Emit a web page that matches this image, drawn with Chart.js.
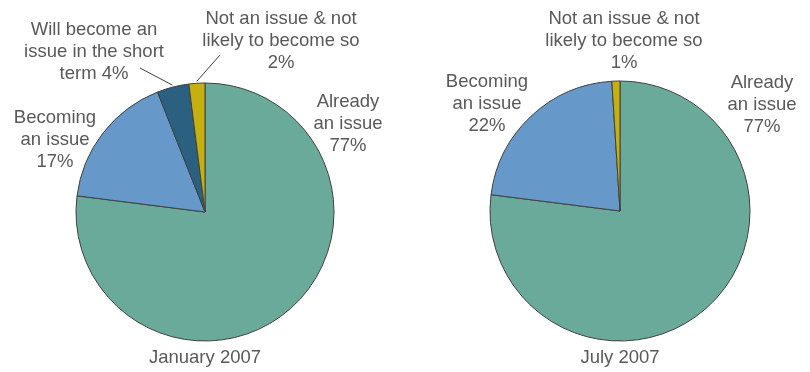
<!DOCTYPE html>
<html>
<head>
<meta charset="utf-8">
<script src="https://cdn.jsdelivr.net/npm/chart.js@4.4.0/dist/chart.umd.min.js"></script>
<style>
html, body { margin: 0; padding: 0; background: #fff; }
#wrap { position: relative; width: 810px; height: 372px; }
.pane { position: absolute; top: 0; height: 372px; }
</style>
</head>
<body>
<div id="wrap">
  <div class="pane" style="left:0;width:410px"><canvas id="c1" width="410" height="372"></canvas></div>
  <div class="pane" style="left:410px;width:400px"><canvas id="c2" width="400" height="372"></canvas></div>
</div>
<script>
// ******************************************************** DATA

var janCategories = ["Already an issue", "Becoming an issue", "Will become an issue in the short term", "Not an issue & not likely to become so"];
var janValues = [77, 17, 4, 2];
var julCategories = ["Already an issue", "Becoming an issue", "Not an issue & not likely to become so"];
var julValues = [77, 22, 1];
var periods = ["January 2007", "July 2007"];

// ******************************************************** LAYOUT / STYLE

var sliceColors = {
	"Already an issue": "#6aaa9a",
	"Becoming an issue": "#6699c9",
	"Will become an issue in the short term": "#2c6080",
	"Not an issue & not likely to become so": "#c5b010"
};
// how each label is wrapped; inline = percentage joined onto the last line
var wrap = {
	"Already an issue": { lines: ["Already", "an issue"], inline: false },
	"Becoming an issue": { lines: ["Becoming", "an issue"], inline: false },
	"Will become an issue in the short term": { lines: ["Will become an", "issue in the short", "term"], inline: true },
	"Not an issue & not likely to become so": { lines: ["Not an issue & not", "likely to become so"], inline: false }
};
var textColor = "#595959";
var font = "18.5px 'Liberation Sans', Arial, sans-serif";
var lineH = 22;

// label anchor (centre x, first line y) per slice, and optional leader start
var janPlace = [
	{ x: 348, y: 102 },
	{ x: 55, y: 118 },
	{ x: 94, y: 30, lead: [140, 68] },
	{ x: 281, y: 19, lead: [220, 55] }
];
var julPlace = [
	{ x: 352, y: 83 },
	{ x: 77, y: 82 },
	{ x: 214, y: 19 }
];

function labelLines(cat, val) {
	var w = wrap[cat];
	var out = w.lines.slice();
	if (w.inline) out[out.length - 1] += " " + val + "%";
	else out.push(val + "%");
	return out;
}

var labelPlugin = {
	id: 'labelPlugin',
	afterDraw: function (chart) {
		var ctx = chart.ctx;
		var o = chart.options.plugins.labelPlugin;
		var meta = chart.getDatasetMeta(0);
		var ds = chart.data.datasets[0];
		ctx.save();
		ctx.font = font;
		ctx.fillStyle = textColor;
		ctx.textAlign = "center";
		ctx.textBaseline = "middle";
		chart.data.labels.forEach(function (cat, i) {
			var p = o.place[i];
			var lines = labelLines(cat, ds.data[i]);
			lines.forEach(function (t, k) {
				ctx.fillText(t, p.x, p.y + k * lineH);
			});
			if (p.lead) {
				var arc = meta.data[i];
				var mid = (arc.startAngle + arc.endAngle) / 2;
				var r = arc.outerRadius + 2;
				ctx.beginPath();
				ctx.strokeStyle = "#404040";
				ctx.lineWidth = 1;
				ctx.moveTo(p.lead[0], p.lead[1]);
				ctx.lineTo(arc.x + Math.cos(mid) * r, arc.y + Math.sin(mid) * r);
				ctx.stroke();
			}
		});
		ctx.fillText(o.title, o.titleX, o.titleY);
		ctx.restore();
	}
};

function makePie(id, cats, vals, cx, cy, r, w, place, title) {
	var side = 2 * r + 1;
	var left = cx - side / 2, top = cy - side / 2;
	return new Chart(document.getElementById(id), {
		type: 'pie',
		data: {
			labels: cats,
			datasets: [{
				data: vals,
				backgroundColor: cats.map(function (c) { return sliceColors[c]; }),
				borderColor: "#404040",
				borderWidth: 1
			}]
		},
		options: {
			responsive: false,
			animation: false,
			devicePixelRatio: 1,
			layout: { padding: { left: left, top: top, right: w - left - side, bottom: 372 - top - side } },
			plugins: {
				legend: { display: false },
				tooltip: { enabled: false },
				labelPlugin: { place: place, title: title, titleX: cx, titleY: 358 }
			}
		},
		plugins: [labelPlugin]
	});
}

// ******************************************************** CHARTS

makePie("c1", janCategories, janValues, 205, 212, 129, 410, janPlace, periods[0]);
makePie("c2", julCategories, julValues, 210, 211, 130, 400, julPlace, periods[1]);
</script>
</body>
</html>
